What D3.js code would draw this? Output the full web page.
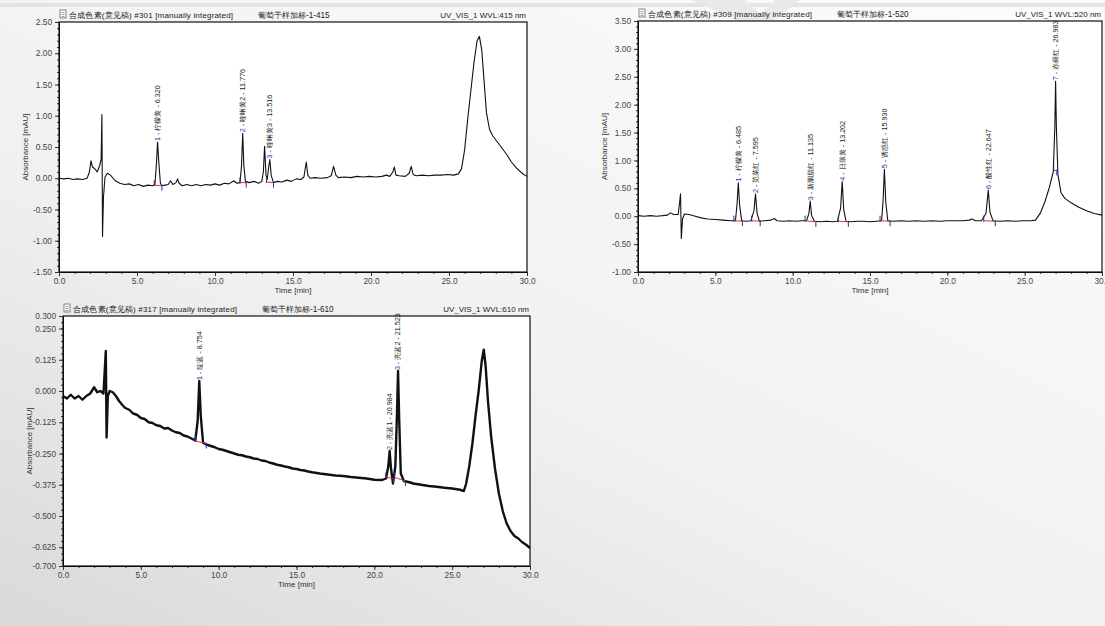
<!DOCTYPE html>
<html>
<head>
<meta charset="utf-8">
<script src="https://cdn.jsdelivr.net/npm/d3@7/dist/d3.min.js"></script>
<style>
  body { margin: 0; background: #eee; }
  svg { display: block; font-family: "Liberation Sans", Arial, sans-serif; }
</style>
</head>
<body>
<div id="chart"></div>
<script>
// ---- shared axis values
const xTicks = [0, 5, 10, 15, 20, 25, 30];

// ---- panel 1 : 415 nm
const p1Title = ['合成色素(意见稿) #301 [manually integrated]', '葡萄干样加标-1-415', 'UV_VIS_1 WVL:415 nm'];
const p1YTicks = [2.5, 2.0, 1.5, 1.0, 0.5, 0.0, -0.5, -1.0, -1.5];
const p1Time = [0, 0.3, 0.6, 0.9, 1.2, 1.5, 1.8, 1.95, 2.05, 2.15, 2.3, 2.45, 2.6, 2.7, 2.75, 2.79, 2.85, 2.95, 3.1, 3.3,
  3.6, 3.9, 4.2, 4.5, 4.8, 5.1, 5.4, 5.7, 6.0, 6.15, 6.25, 6.32, 6.4, 6.5, 6.6, 6.8, 7.0, 7.15, 7.3, 7.5,
  7.6, 7.7, 7.9, 8.2, 8.5, 8.8, 9.1, 9.4, 9.7, 10.0, 10.3, 10.6, 10.9, 11.2, 11.4, 11.6, 11.7, 11.776, 11.85, 11.95,
  12.2, 12.5, 12.8, 13.0, 13.1, 13.18, 13.27, 13.35, 13.45, 13.516, 13.6, 13.75, 14.0, 14.3, 14.6, 14.9, 15.2, 15.5, 15.7, 15.85,
  15.95, 16.1, 16.4, 16.8, 17.2, 17.45, 17.6, 17.75, 17.9, 18.3, 18.7, 19.1, 19.5, 19.9, 20.3, 20.7, 21.0, 21.2, 21.4, 21.5,
  21.6, 21.8, 22.2, 22.45, 22.58, 22.7, 22.9, 23.3, 23.7, 24.1, 24.5, 24.9, 25.3, 25.6, 25.8, 26.0, 26.2, 26.4, 26.6, 26.8,
  26.95, 27.1, 27.25, 27.4, 27.6, 27.8, 28.1, 28.4, 28.7, 29.0, 29.3, 29.6, 29.8, 30.0];
const p1Abs = [0.00, -0.01, 0.00, -0.02, -0.01, -0.02, 0.00, 0.10, 0.28, 0.18, 0.15, 0.10, 0.20, 0.30, 1.02, -0.93, -0.30, 0.02, 0.08, 0.05,
  -0.04, -0.08, -0.10, -0.09, -0.12, -0.10, -0.13, -0.11, -0.12, -0.10, 0.25, 0.58, 0.25, -0.08, -0.12, -0.11, -0.10, -0.04, -0.10, -0.07,
  -0.01, -0.08, -0.12, -0.10, -0.12, -0.10, -0.12, -0.10, -0.11, -0.09, -0.11, -0.08, -0.09, -0.04, -0.08, -0.07, 0.20, 0.72, 0.20, -0.05,
  -0.07, -0.05, -0.08, -0.05, 0.10, 0.51, 0.05, -0.02, 0.20, 0.30, 0.05, -0.07, -0.05, -0.06, -0.03, -0.05, -0.01, -0.02, 0.02, 0.26,
  0.05, 0.00, 0.01, 0.00, 0.01, 0.04, 0.19, 0.05, 0.01, 0.02, 0.01, 0.03, 0.02, 0.03, 0.02, 0.03, 0.05, 0.03, 0.10, 0.18,
  0.05, 0.04, 0.03, 0.08, 0.19, 0.06, 0.04, 0.05, 0.04, 0.05, 0.05, 0.06, 0.05, 0.07, 0.15, 0.45, 0.95, 1.40, 1.85, 2.20,
  2.27, 2.05, 1.55, 1.05, 0.78, 0.68, 0.58, 0.48, 0.38, 0.26, 0.17, 0.10, 0.06, 0.03];
const p1PeakNames = ['柠檬黄', '喹啉黄2', '喹啉黄3'];
const p1PeakRT = [6.320, 11.776, 13.516];
const p1PeakTop = [0.58, 0.72, 0.30];
const p1PeakStart = [6.10, 11.60, 13.30];
const p1PeakEnd = [6.60, 12.00, 13.75];
const p1BaseStart = [-0.11, -0.07, -0.06];
const p1BaseEnd = [-0.12, -0.07, -0.07];

// ---- panel 2 : 520 nm
const p2Title = ['合成色素(意见稿) #309 [manually integrated]', '葡萄干样加标-1-520', 'UV_VIS_1 WVL:520 nm'];
const p2YTicks = [3.5, 3.0, 2.5, 2.0, 1.5, 1.0, 0.5, 0.0, -0.5, -1.0];
const p2Time = [0, 0.4, 0.8, 1.2, 1.6, 1.9, 2.1, 2.3, 2.6, 2.75, 2.8, 2.88, 3.0, 3.3, 3.7, 4.1, 4.5, 5.0, 5.5, 6.0,
  6.3, 6.4, 6.485, 6.57, 6.7, 7.0, 7.3, 7.5, 7.595, 7.7, 7.85, 8.2, 8.6, 8.8, 9.0, 9.4, 9.8, 10.2, 10.6, 10.9,
  11.05, 11.135, 11.22, 11.4, 11.8, 12.2, 12.6, 12.9, 13.1, 13.202, 13.3, 13.45, 13.8, 14.2, 14.6, 15.0, 15.4, 15.75, 15.85, 15.93,
  16.02, 16.15, 16.5, 17.0, 17.5, 18.0, 18.5, 19.0, 19.5, 20.0, 20.5, 21.0, 21.4, 21.6, 21.8, 22.2, 22.5, 22.647, 22.75, 22.95,
  23.4, 23.9, 24.4, 24.9, 25.4, 25.7, 26.0, 26.3, 26.6, 26.85, 26.95, 27.0, 27.05, 27.15, 27.35, 27.6, 28.0, 28.5, 29.0, 29.5, 30.0];
const p2Abs = [0.01, 0.00, 0.01, 0.00, 0.01, 0.02, 0.06, 0.03, 0.03, 0.40, -0.40, -0.05, 0.04, 0.03, 0.00, -0.03, -0.05, -0.06, -0.07, -0.08,
  -0.08, 0.20, 0.60, 0.20, -0.08, -0.09, -0.08, 0.10, 0.40, 0.05, -0.09, -0.08, -0.07, -0.04, -0.08, -0.09, -0.08, -0.09, -0.08, -0.08,
  0.05, 0.27, 0.02, -0.09, -0.10, -0.09, -0.10, -0.09, 0.15, 0.62, 0.12, -0.09, -0.10, -0.09, -0.09, -0.10, -0.09, -0.08, 0.30, 0.84,
  0.25, -0.08, -0.09, -0.08, -0.09, -0.08, -0.09, -0.08, -0.09, -0.08, -0.08, -0.08, -0.07, -0.05, -0.08, -0.08, 0.05, 0.47, 0.08, -0.08,
  -0.09, -0.08, -0.09, -0.08, -0.08, -0.07, 0.05, 0.25, 0.52, 0.80, 1.60, 2.42, 1.60, 0.75, 0.42, 0.32, 0.24, 0.16, 0.10, 0.05, 0.02];
const p2PeakNames = ['柠檬黄', '苋菜红', '新胭脂红', '日落黄', '诱惑红', '酸性红', '赤藓红'];
const p2PeakRT = [6.485, 7.595, 11.135, 13.202, 15.930, 22.647, 26.983];
const p2PeakTop = [0.60, 0.40, 0.27, 0.62, 0.84, 0.47, 2.42];
const p2PeakStart = [6.20, 7.35, 10.80, 12.95, 15.65, 22.35, 26.88];
const p2PeakEnd = [6.75, 7.90, 11.50, 13.60, 16.30, 23.10, 27.08];
const p2BaseStart = [-0.08, -0.08, -0.08, -0.09, -0.08, -0.08, 0.82];
const p2BaseEnd = [-0.09, -0.09, -0.10, -0.10, -0.09, -0.09, 0.82];

// ---- panel 3 : 610 nm
const p3Title = ['合成色素(意见稿) #317 [manually integrated]', '葡萄干样加标-1-610', 'UV_VIS_1 WVL:610 nm'];
const p3YTicks = [0.3, 0.25, 0.125, 0.0, -0.125, -0.25, -0.375, -0.5, -0.625, -0.7];
const p3Time = [0, 0.25, 0.5, 0.75, 1.0, 1.25, 1.5, 1.75, 2.0, 2.2, 2.4, 2.6, 2.75, 2.8, 2.88, 3.0, 3.2, 3.4, 3.6, 3.8,
  4.0, 4.25, 4.5, 4.75, 5.0, 5.25, 5.5, 5.75, 6.0, 6.25, 6.5, 6.75, 7.0, 7.25, 7.5, 7.75, 8.0, 8.25, 8.5, 8.65,
  8.754, 8.85, 9.0, 9.25, 9.5, 9.75, 10.0, 10.25, 10.5, 10.75, 11.0, 11.25, 11.5, 11.75, 12.0, 12.25, 12.5, 12.75, 13.0, 13.25,
  13.5, 13.75, 14.0, 14.25, 14.5, 14.75, 15.0, 15.25, 15.5, 15.75, 16.0, 16.5, 17.0, 17.5, 18.0, 18.5, 19.0, 19.5, 20.0, 20.5,
  20.75, 20.9, 20.984, 21.07, 21.2, 21.35, 21.45, 21.523, 21.6, 21.7, 21.9, 22.25, 22.5, 23.0, 23.5, 24.0, 24.5, 25.0, 25.5, 25.75,
  25.9, 26.1, 26.3, 26.5, 26.7, 26.9, 27.03, 27.15, 27.3, 27.5, 27.75, 28.0, 28.25, 28.5, 28.75, 29.0, 29.25, 29.5, 29.75, 30.0];
const p3Abs = [-0.02, -0.03, -0.015, -0.03, -0.02, -0.035, -0.02, -0.01, 0.015, -0.005, 0.00, -0.01, 0.16, -0.186, -0.02, 0.00, -0.005, -0.02, -0.04, -0.055,
  -0.068, -0.075, -0.09, -0.095, -0.108, -0.112, -0.125, -0.128, -0.137, -0.14, -0.15, -0.148, -0.158, -0.165, -0.168, -0.178, -0.182, -0.19, -0.198, -0.12,
  0.04, -0.10, -0.208, -0.215, -0.22, -0.225, -0.232, -0.235, -0.24, -0.245, -0.25, -0.255, -0.257, -0.262, -0.265, -0.27, -0.272, -0.278, -0.28, -0.286,
  -0.29, -0.295, -0.298, -0.302, -0.305, -0.31, -0.312, -0.316, -0.318, -0.322, -0.325, -0.33, -0.334, -0.338, -0.34, -0.344, -0.347, -0.35, -0.355, -0.356,
  -0.35, -0.30, -0.24, -0.31, -0.37, -0.30, -0.10, 0.08, -0.12, -0.33, -0.36, -0.365, -0.37, -0.375, -0.38, -0.383, -0.387, -0.39, -0.395, -0.40,
  -0.37, -0.30, -0.21, -0.10, 0.00, 0.12, 0.165, 0.10, -0.04, -0.18, -0.31, -0.41, -0.48, -0.53, -0.56, -0.58, -0.59, -0.605, -0.615, -0.628];
const p3PeakNames = ['靛蓝', '亮蓝1', '亮蓝2'];
const p3PeakRT = [8.754, 20.984, 21.523];
const p3PeakTop = [0.04, -0.24, 0.08];
const p3PeakStart = [8.50, 20.75, 21.28];
const p3PeakEnd = [9.20, 21.22, 22.00];
const p3BaseStart = [-0.20, -0.345, -0.345];
const p3BaseEnd = [-0.21, -0.35, -0.36];

// ---- page
const W = 1105, H = 626;
const svg = d3.select('#chart').append('svg')
  .attr('width', W)
  .attr('height', H);

const defs = svg.append('defs');
const grad = defs.append('linearGradient')
  .attr('id', 'bg')
  .attr('x1', '0.85').attr('y1', '0')
  .attr('x2', '0').attr('y2', '1');
grad.append('stop').attr('offset', '0').attr('stop-color', '#fbfbfb');
grad.append('stop').attr('offset', '0.55').attr('stop-color', '#f1f1f1');
grad.append('stop').attr('offset', '1').attr('stop-color', '#d9d9d9');

svg.append('rect').attr('width', W).attr('height', H).attr('fill', 'url(#bg)');
// faint band and watermark shape at the top
svg.append('rect').attr('x', 0).attr('y', 3).attr('width', W).attr('height', 4).attr('fill', '#e4e4e4');
svg.append('path')
  .attr('d', 'M690,0 L745,0 L760,14 L775,0 L800,0 L760,30 Z')
  .attr('fill', '#e9e9e9');

const fmt2 = d => d.toFixed(2);
const fmt1 = d => d.toFixed(1);
const fmt3 = d => d.toFixed(3);

function drawPanel(p) {
  const x = d3.scaleLinear().domain([0, 30]).range([p.left, p.right]);
  const y = d3.scaleLinear().domain(p.yDomain).range([p.bottom, p.top]);
  const g = svg.append('g');

  // plot background
  g.append('rect')
    .attr('x', p.left).attr('y', p.top)
    .attr('width', p.right - p.left).attr('height', p.bottom - p.top)
    .attr('fill', '#fff');

  // minor ticks
  g.append('g')
    .attr('transform', `translate(${p.left},0)`)
    .call(d3.axisLeft(y).tickValues(p.yMinor).tickSize(2).tickSizeOuter(0).tickFormat(''))
    .call(a => a.select('.domain').remove())
    .selectAll('line').attr('stroke', '#333');
  g.append('g')
    .attr('transform', `translate(0,${p.bottom})`)
    .call(d3.axisBottom(x).tickValues(d3.range(0, 31, 1)).tickSize(2).tickSizeOuter(0).tickFormat(''))
    .call(a => a.select('.domain').remove())
    .selectAll('line').attr('stroke', '#333');

  // major axes
  const ay = g.append('g')
    .attr('transform', `translate(${p.left},0)`)
    .call(d3.axisLeft(y).tickValues(p.yTicks).tickSize(4).tickSizeOuter(0).tickPadding(3).tickFormat(p.yFmt));
  const ax = g.append('g')
    .attr('transform', `translate(0,${p.bottom})`)
    .call(d3.axisBottom(x).tickValues(xTicks).tickSize(4).tickSizeOuter(0).tickPadding(2).tickFormat(fmt1));
  [ay, ax].forEach(a => {
    a.selectAll('text').attr('font-size', 8.3).attr('fill', '#444')
      .attr('font-family', '"Liberation Sans", Arial, sans-serif');
    a.selectAll('line').attr('stroke', '#333');
    a.select('.domain').attr('stroke', '#000');
  });

  g.append('rect')
    .attr('x', p.left).attr('y', p.top)
    .attr('width', p.right - p.left).attr('height', p.bottom - p.top)
    .attr('fill', 'none')
    .attr('stroke', '#111')
    .attr('stroke-width', 1.2);

  // axis titles
  g.append('text')
    .attr('x', (p.left + p.right) / 2)
    .attr('y', p.bottom + 21)
    .attr('text-anchor', 'middle')
    .attr('font-size', 8)
    .attr('fill', '#333')
    .text('Time [min]');
  g.append('text')
    .attr('transform', `translate(${p.left - 31},${(p.top + p.bottom) / 2}) rotate(-90)`)
    .attr('text-anchor', 'middle')
    .attr('font-size', 8)
    .attr('fill', '#333')
    .text('Absorbance [mAU]');

  // header line
  const ty = p.top - 4;
  const icon = g.append('g').attr('transform', `translate(${p.left + 1},${ty - 8})`);
  icon.append('rect').attr('width', 6).attr('height', 8).attr('fill', '#fff').attr('stroke', '#666').attr('stroke-width', 0.8);
  icon.append('path').attr('d', 'M1.5,2.5H4.5M1.5,4.5H4.5M1.5,6.5H4.5').attr('stroke', '#777').attr('stroke-width', 0.7);
  g.append('text')
    .attr('x', p.left + 10).attr('y', ty)
    .attr('font-size', 8).attr('fill', '#222')
    .attr('textLength', 164).attr('lengthAdjust', 'spacing')
    .text(p.title[0]);
  g.append('text')
    .attr('x', p.left + 199).attr('y', ty)
    .attr('font-size', 8.2).attr('fill', '#222')
    .text(p.title[1]);
  g.append('text')
    .attr('x', p.right - 1).attr('y', ty)
    .attr('text-anchor', 'end')
    .attr('font-size', 8).attr('fill', '#222')
    .text(p.title[2]);

  // chromatogram trace
  const pts = p.time.map((t, i) => [t, p.abs[i]]);
  const line = d3.line().x(d => x(d[0])).y(d => y(d[1]));
  g.append('path')
    .attr('d', line(pts))
    .attr('fill', 'none')
    .attr('stroke', '#111')
    .attr('stroke-width', p.lineWidth)
    .attr('stroke-linejoin', 'round');

  // integration baselines and delimiters
  p.rt.forEach((rt, i) => {
    g.append('line')
      .attr('x1', x(p.start[i])).attr('y1', y(p.baseS[i]))
      .attr('x2', x(p.end[i])).attr('y2', y(p.baseE[i]))
      .attr('stroke', '#e8302a').attr('stroke-width', 1);
    g.append('line')
      .attr('x1', x(p.start[i])).attr('y1', y(p.baseS[i]) - 5)
      .attr('x2', x(p.start[i])).attr('y2', y(p.baseS[i]) + 1)
      .attr('stroke', '#2b2ba8').attr('stroke-width', 1);
    g.append('line')
      .attr('x1', x(p.end[i])).attr('y1', y(p.baseE[i]) - 1)
      .attr('x2', x(p.end[i])).attr('y2', y(p.baseE[i]) + 5)
      .attr('stroke', '#2b2ba8').attr('stroke-width', 1);

    // peak label, written upwards from the apex
    const lbl = g.append('text')
      .attr('transform', `translate(${x(rt)},${y(p.top_[i]) - 1}) rotate(-90)`)
      .attr('dy', '0.33em')
      .attr('font-size', 7.2)
      .attr('fill', '#222');
    lbl.append('tspan').attr('fill', '#2b2ba8').text(`${i + 1}`);
    lbl.append('tspan').text(` - ${p.names[i]} - ${rt.toFixed(3)}`);
  });
}

drawPanel({
  left: 59, right: 527, top: 22, bottom: 272,
  yDomain: [-1.5, 2.5], yTicks: p1YTicks, yMinor: d3.range(-15, 26, 1).map(v => v / 10), yFmt: fmt2,
  title: p1Title, time: p1Time, abs: p1Abs, lineWidth: 1.1,
  names: p1PeakNames, rt: p1PeakRT, top_: p1PeakTop, start: p1PeakStart, end: p1PeakEnd,
  baseS: p1BaseStart, baseE: p1BaseEnd
});

drawPanel({
  left: 638, right: 1102, top: 21, bottom: 272,
  yDomain: [-1.0, 3.5], yTicks: p2YTicks, yMinor: d3.range(-10, 36, 1).map(v => v / 10), yFmt: fmt2,
  title: p2Title, time: p2Time, abs: p2Abs, lineWidth: 1.1,
  names: p2PeakNames, rt: p2PeakRT, top_: p2PeakTop, start: p2PeakStart, end: p2PeakEnd,
  baseS: p2BaseStart, baseE: p2BaseEnd
});

drawPanel({
  left: 63, right: 530, top: 316, bottom: 566,
  yDomain: [-0.7, 0.3], yTicks: p3YTicks, yMinor: d3.range(-28, 13, 1).map(v => v * 0.025), yFmt: fmt3,
  title: p3Title, time: p3Time, abs: p3Abs, lineWidth: 2.4,
  names: p3PeakNames, rt: p3PeakRT, top_: p3PeakTop, start: p3PeakStart, end: p3PeakEnd,
  baseS: p3BaseStart, baseE: p3BaseEnd
});
</script>
</body>
</html>
